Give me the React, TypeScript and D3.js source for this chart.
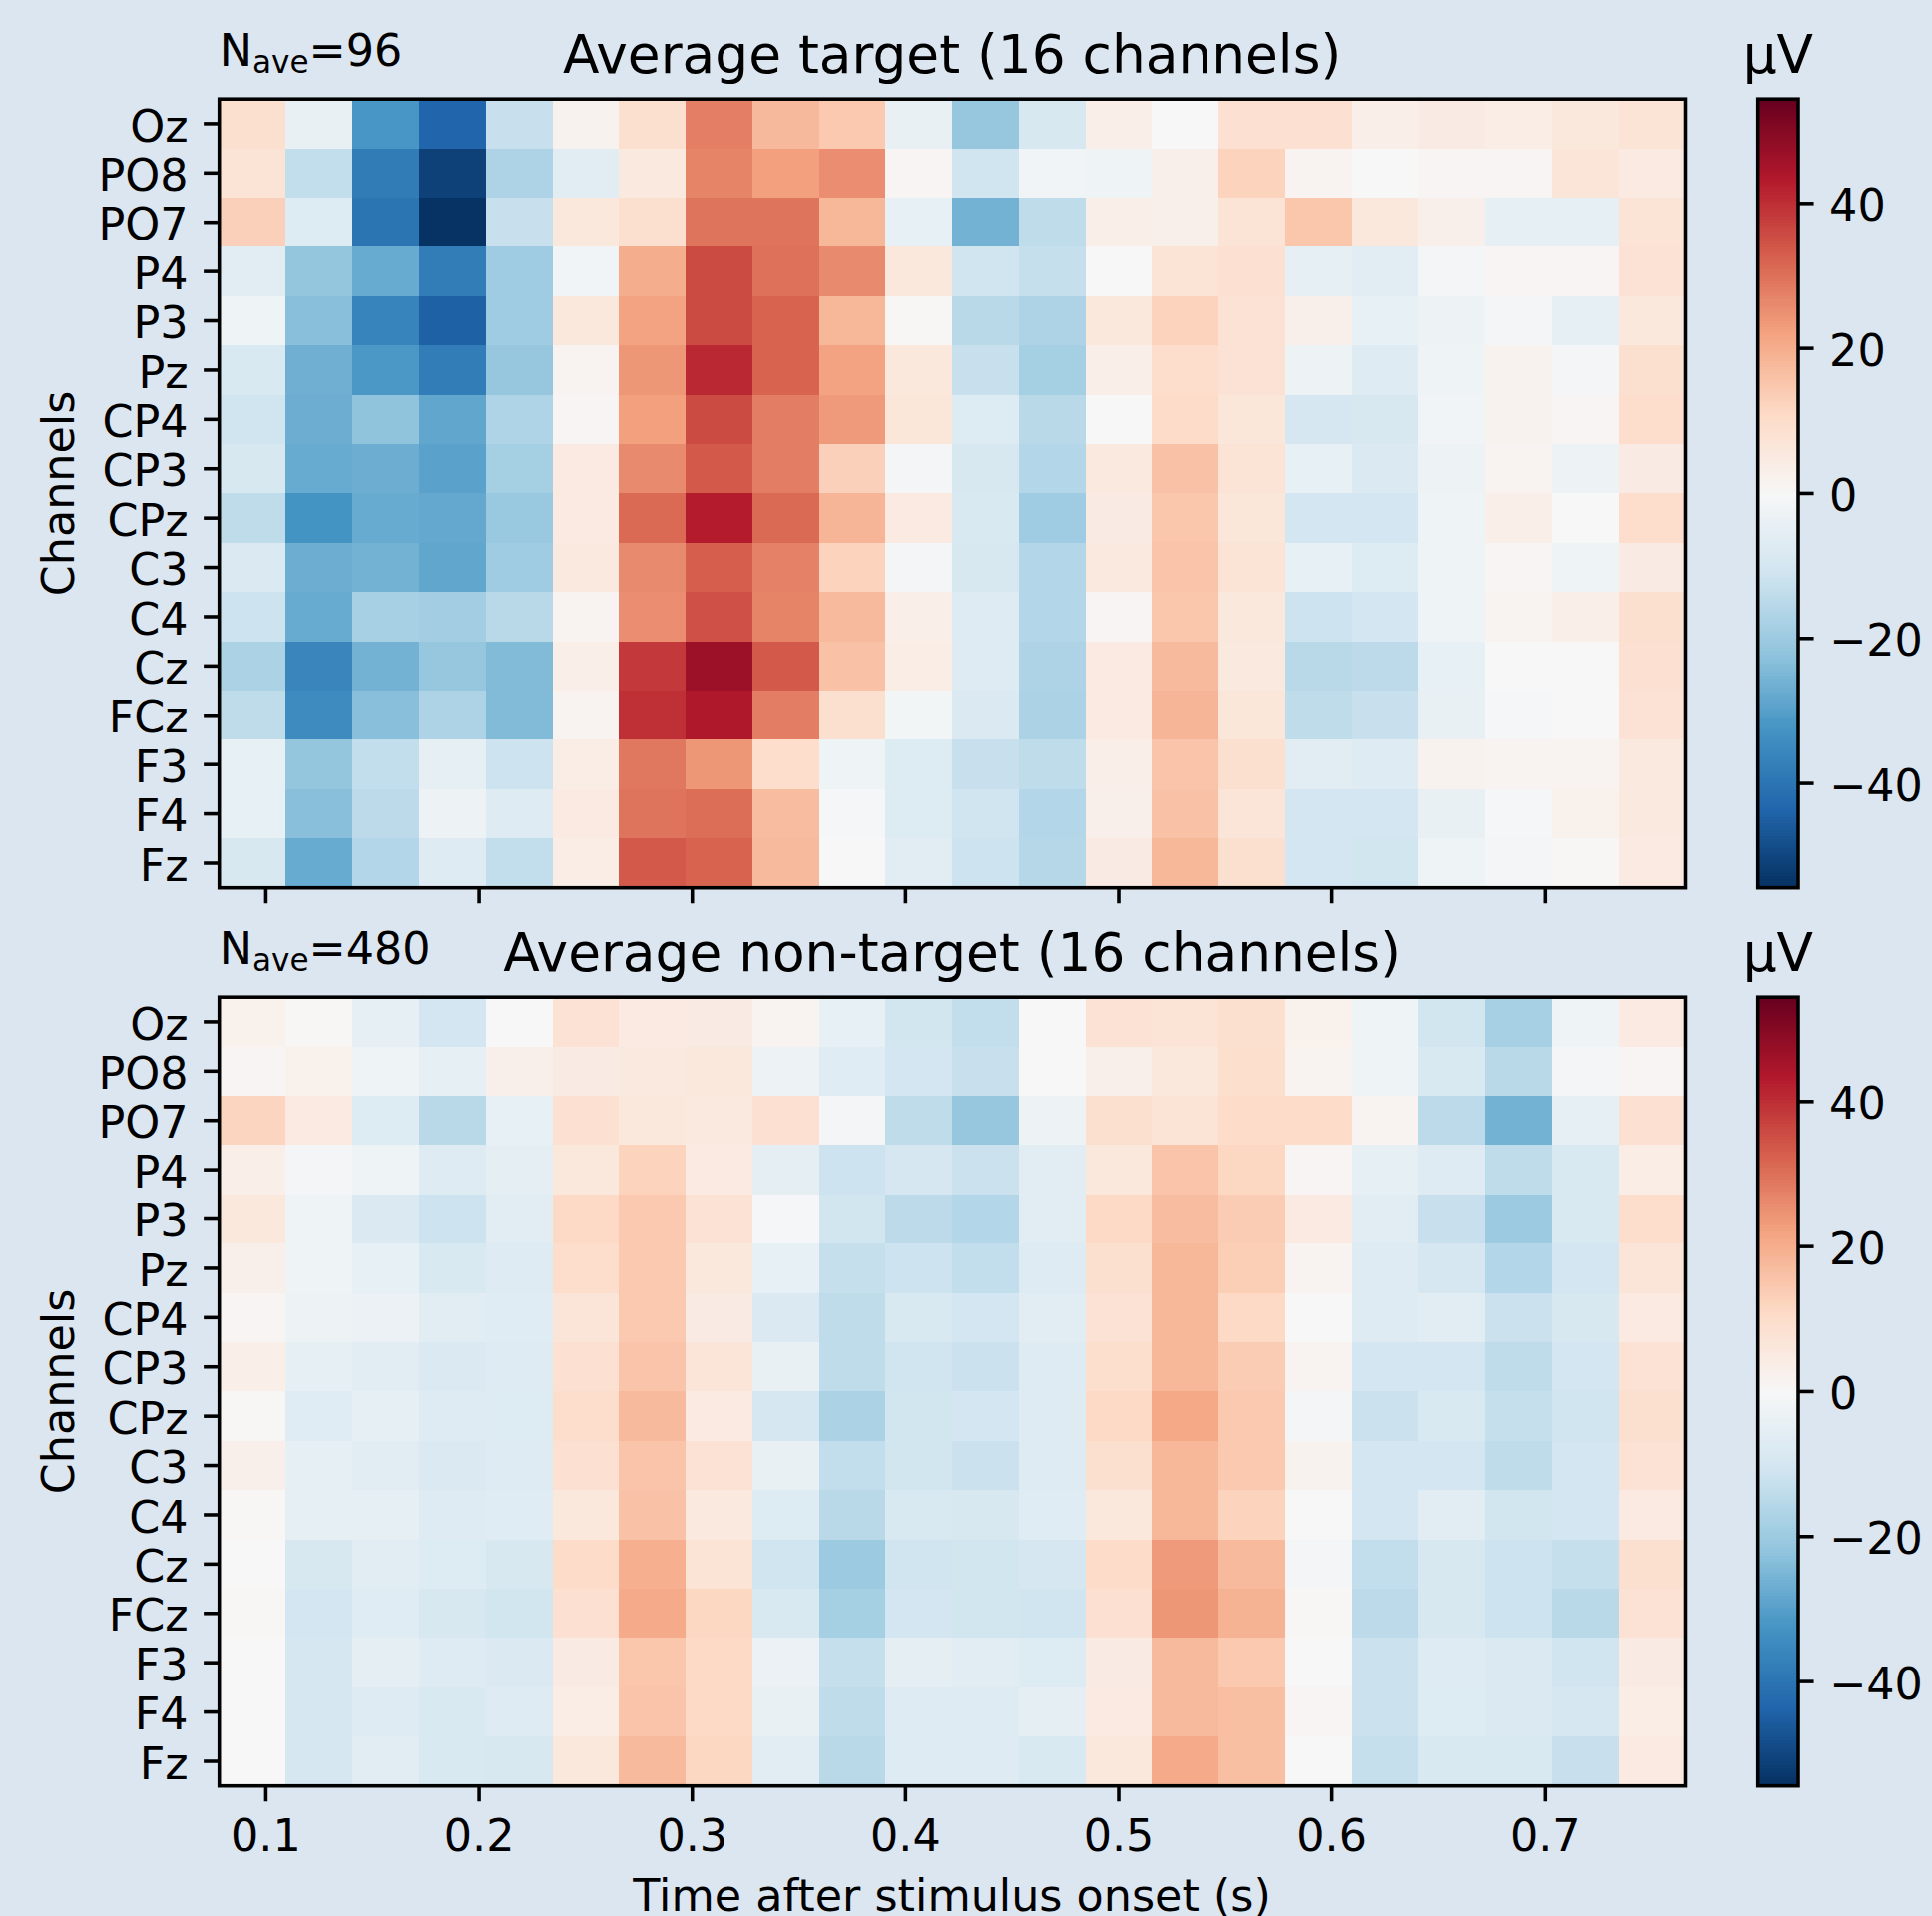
import React from 'react';
import * as d3 from 'd3';

const channels = ['Oz', 'PO8', 'PO7', 'P4', 'P3', 'Pz', 'CP4', 'CP3', 'CPz', 'C3', 'C4', 'Cz', 'FCz', 'F3', 'F4', 'Fz'];
const timeTicks = [0.1, 0.2, 0.3, 0.4, 0.5, 0.6, 0.7];
const colorbarTicks = [-40, -20, 0, 20, 40];
const timeStart = 0.078125;
const timeStep = 0.03125;
const colorLimit = 54.4;

// RdBu_r anchors, low to high
const rdbuColors = ['#053061', '#2166ac', '#4393c3', '#92c5de', '#d1e5f0', '#f7f7f7', '#fddbc7', '#f4a582', '#d6604d', '#b2182b', '#67001f'];

// one row per channel, 22 time bins, values in microvolts
const targetValues = [
  [9, -4, -32, -43.5, -12.5, 2, 9, 27.7, 17.8, 14.5, -4, -21, -9, 3.5, 0, 8.5, 8.5, 3.5, 4.5, 4, 6, 7.5],
  [7.5, -13.5, -38.5, -51, -17, -6, 5.5, 27, 22.5, 25.5, 1, -11, -2, -2.5, 3, 12.5, 1.5, 0, 1, 1, 7, 5],
  [13, -7.5, -40, -54, -12.5, 6, 9, 29.5, 29.5, 18, -4.5, -26, -14, 3.5, 3, 7.5, 15, 6, 3, -5, -5, 7.5],
  [-6, -21.5, -27.5, -38, -19.5, -2, 20, 36, 30, 26, 6, -11, -13, 0, 7.5, 8.5, -5, -6, -1, 1, 1, 8],
  [-2.5, -23, -36.5, -44.5, -19.5, 6, 22, 36, 32, 18, 0.5, -15, -17, 6, 12.5, 8, 3, -4.5, -3, -1, -5, 6],
  [-8.5, -26.5, -31.5, -38, -21, 1.5, 24, 41, 32, 22, 6, -12.5, -18.5, 3.5, 10, 8, -3, -7, -2.5, 2, -1, 9],
  [-11, -27, -22, -28.5, -16.5, 1, 22.5, 36, 28, 23.5, 6.5, -7.5, -15, 0, 10.5, 6.5, -9.5, -9, -2, 2, 1, 10],
  [-9, -27.5, -27, -29.5, -18.5, 5, 26, 33.5, 28, 13, -1, -9, -16, 5.5, 16, 7.5, -4.5, -8, -3, 1.5, -3, 4.5],
  [-14, -32.5, -27.5, -28, -20.5, 5, 31, 43, 31, 18.5, 5, -8.5, -19.5, 4.5, 15, 6.5, -10, -10, -2.5, 3.5, 0, 10],
  [-8, -27, -26, -28.5, -19.5, 5.5, 26, 33, 27.5, 12.5, -1, -9, -16, 5.5, 15.5, 7.5, -4.5, -7.5, -2.5, 1, -2.5, 4.5],
  [-11.5, -27.5, -18, -19, -15, 1.5, 25.5, 35, 27, 17.5, 3.5, -7, -16, 1, 15, 6, -11.5, -10, -2.5, 1.5, 3.5, 9],
  [-17.5, -36, -26, -21, -24, 3.5, 38.5, 46.5, 33.5, 16, 4, -7, -17, 5, 17.5, 5.5, -15, -14.5, -4.5, 0, 0, 8.5],
  [-14, -34.5, -23, -17, -24, 1.5, 40, 44, 28, 9, -1.5, -8, -17.5, 5, 18.5, 6.5, -14, -12.5, -4, -0.5, 0, 8],
  [-4.5, -21.5, -13.5, -5, -11.5, 4, 29, 24, 10, -2.5, -7.5, -12.5, -14, 3.5, 15.5, 9, -6, -7, 2, 1.5, 1.5, 5.5],
  [-4.5, -23, -14.5, -3, -7, 5, 29.5, 30.5, 17, -0.5, -7.5, -11, -16, 3, 16, 7, -10, -10, -4, -0.5, 2.5, 5.5],
  [-9, -27.5, -16, -7, -13.5, 4, 33.5, 32, 17.5, 0, -6, -11.5, -15.5, 4.5, 18, 9, -10, -10.5, -2.5, -1, 0.5, 5],
];

const nonTargetValues = [
  [2.5, 0.5, -5, -10, 0, 8, 5, 4.5, 1.5, -4.5, -10.5, -13.5, 0, 8, 7.5, 9, 2.5, -2.5, -10.5, -18, -2.5, 5],
  [1, 2.5, -2.5, -5, 3, 4.5, 5.5, 6, -3, -6.5, -10, -12.5, 0, 3, 6, 9.5, 1.5, -2.5, -8.5, -15, -1, 1],
  [12, 5, -7.5, -15, -4.5, 8.5, 6, 5.5, 8.5, -1, -14, -21, -3, 9, 7.5, 10.5, 10.5, 1.5, -14.5, -26, -5, 8.5],
  [3.5, -1, -2.5, -7, -5.5, 6, 12.5, 5, -5.5, -11.5, -9.5, -12, -6, 6, 15.5, 11.5, 1, -5, -7, -14, -8.5, 4],
  [6, -2.5, -8, -11.5, -6, 11, 14.5, 8, -0.5, -10.5, -14.5, -16, -6, 11, 17, 14, 5, -6, -12.5, -20, -8.5, 10],
  [3, -2.5, -4.5, -8.5, -7, 10, 14.5, 6, -4.5, -13, -11.5, -13.5, -7, 9, 18, 13.5, 1.5, -7, -9.5, -16, -10, 7],
  [1, -3, -3.5, -6, -6.5, 7, 14.5, 4.5, -8, -14, -8.5, -10, -6, 8, 18, 11, 0, -7, -6, -12, -9, 5],
  [3.5, -5, -6, -8, -7, 8.5, 15.5, 7, -4, -14, -11, -12, -7, 9.5, 18, 14, 1.5, -10, -10, -14, -10, 8],
  [0.5, -6.5, -5, -7, -7.5, 10, 17.5, 5, -9.5, -17.5, -10.5, -10, -7, 11, 21, 14.5, -1, -12, -8.5, -13, -11, 9],
  [3, -5, -6, -8, -7, 8.5, 15.5, 8, -4, -13.5, -10.5, -12, -7, 9, 18, 14.5, 2, -10, -10, -14, -10, 8],
  [0.5, -5, -5, -7, -6.5, 6, 16, 5.5, -7.5, -15, -8.5, -9, -6.5, 6, 18, 12.5, 0, -10, -6, -10.5, -10, 5],
  [0, -9, -6, -7.5, -9, 10.5, 19.5, 7.5, -11, -20, -11, -10.5, -9.5, 10.5, 23.5, 17.5, -1, -13.5, -9, -11.5, -13, 9],
  [0.5, -10, -6.5, -9, -10.5, 8.5, 20.5, 11.5, -8.5, -18.5, -10, -10.5, -11, 8.5, 24, 19, 0.5, -14.5, -9, -11.5, -15, 8],
  [0, -9.5, -5.5, -7, -8, 4.5, 15, 11, -3.5, -13, -5.5, -6, -7.5, 4.5, 17.5, 14.5, 0, -12, -7, -8, -11, 4.5],
  [0, -9.5, -7, -8.5, -7, 4, 15.5, 11, -4, -14, -7, -7, -5.5, 5, 17.5, 16.5, 1, -12, -7.5, -8, -9.5, 4],
  [0, -9.5, -6, -8.5, -9, 6, 17.5, 11.5, -6, -15, -7, -7, -8.5, 6, 20.5, 16.5, 0, -13, -8.5, -8.5, -12.5, 5],
];

const font = 'DejaVu Sans';
const background = '#dce6f0';
// figure was saved at 320 dpi, so 10pt text is 44.44px
const tickSize = 44.44;
const titleSize = 53.33;
const spine = 3.56;
const tickLen = 15.56;

const left = 219.7;
const right = 1688.5;
const cbLeft = 1761.7;
const cbRight = 1802;
const panelHeight = 790.5;

const x = d3.scaleLinear().domain([timeStart, timeStart + timeStep * 22]).range([left, right]);
const color = d3
  .scaleLinear<string>()
  .domain(rdbuColors.map((_, i) => -colorLimit + (i * 2 * colorLimit) / 10))
  .range(rdbuColors)
  .interpolate(d3.interpolateRgb);
const lutLevels = d3.range(256).map((i) => -colorLimit + ((i + 0.5) * 2 * colorLimit) / 256);

function Panel({ top, title, nave, values, showTimeLabels }) {
  const bottom = top + panelHeight;
  const y = d3.scaleBand().domain(channels).range([top, bottom]);
  const cb = d3.scaleLinear().domain([-colorLimit, colorLimit]).range([bottom, top]);
  const lutHeight = panelHeight / 256;

  return (
    <g fontFamily={font} fill="#000">
      {values.map((row, r) =>
        row.map((v, c) => (
          <rect
            key={`${r}-${c}`}
            x={x(timeStart + c * timeStep)}
            y={y(channels[r])}
            width={x(timeStart + timeStep) - x(timeStart)}
            height={y.bandwidth()}
            fill={color(v)}
            shapeRendering="crispEdges"
          />
        ))
      )}
      <rect x={left} y={top} width={right - left} height={panelHeight} fill="none" stroke="#000" strokeWidth={spine} />

      {channels.map((ch) => {
        const cy = y(ch) + y.bandwidth() / 2;
        return (
          <g key={ch}>
            <line x1={left - tickLen} x2={left} y1={cy} y2={cy} stroke="#000" strokeWidth={spine} />
            <text x={left - tickLen - 15.56} y={cy + 17.6} textAnchor="end" fontSize={tickSize}>
              {ch}
            </text>
          </g>
        );
      })}

      {timeTicks.map((t) => (
        <g key={t}>
          <line x1={x(t)} x2={x(t)} y1={bottom} y2={bottom + tickLen} stroke="#000" strokeWidth={spine} />
          {showTimeLabels && (
            <text x={x(t)} y={bottom + 65.3} textAnchor="middle" fontSize={tickSize}>
              {d3.format('.1f')(t)}
            </text>
          )}
        </g>
      ))}

      <text
        transform={`translate(73.5, ${(top + bottom) / 2}) rotate(-90)`}
        textAnchor="middle"
        fontSize={tickSize}
      >
        Channels
      </text>

      <text x={(left + right) / 2} y={top - 26.5} textAnchor="middle" fontSize={titleSize}>
        {title}
      </text>

      {/* N_ave, subscript at 70% */}
      <text x={left} y={top - 33} fontSize={tickSize}>
        N
        <tspan fontSize={tickSize * 0.7} dy={6.7}>
          ave
        </tspan>
        <tspan dy={-6.7}>={nave}</tspan>
      </text>

      {/* colorbar */}
      {lutLevels.map((v, i) => (
        <rect
          key={i}
          x={cbLeft}
          y={bottom - (i + 1) * lutHeight}
          width={cbRight - cbLeft}
          height={lutHeight + 0.5}
          fill={color(v)}
          shapeRendering="crispEdges"
        />
      ))}
      <rect x={cbLeft} y={top} width={cbRight - cbLeft} height={panelHeight} fill="none" stroke="#000" strokeWidth={spine} />
      {colorbarTicks.map((t) => (
        <g key={t}>
          <line x1={cbRight} x2={cbRight + tickLen} y1={cb(t)} y2={cb(t)} stroke="#000" strokeWidth={spine} />
          <text x={cbRight + tickLen + 15.56} y={cb(t) + 17.6} fontSize={tickSize}>
            {d3.format('d')(t)}
          </text>
        </g>
      ))}
      <text x={(cbLeft + cbRight) / 2} y={top - 26.5} textAnchor="middle" fontSize={titleSize}>
        µV
      </text>
    </g>
  );
}

export default function App() {
  return (
    <svg
      width={1936}
      height={1920}
      viewBox="0 0 1936 1920"
      style={{ position: 'absolute', left: 0, top: 0, display: 'block', background }}
    >
      <Panel top={99.2} title="Average target (16 channels)" nave={96} values={targetValues} showTimeLabels={false} />
      <Panel top={999.2} title="Average non-target (16 channels)" nave={480} values={nonTargetValues} showTimeLabels={true} />
      <text x={(left + right) / 2} y={1914.5} textAnchor="middle" fontFamily={font} fontSize={tickSize} fill="#000">
        Time after stimulus onset (s)
      </text>
    </svg>
  );
}
